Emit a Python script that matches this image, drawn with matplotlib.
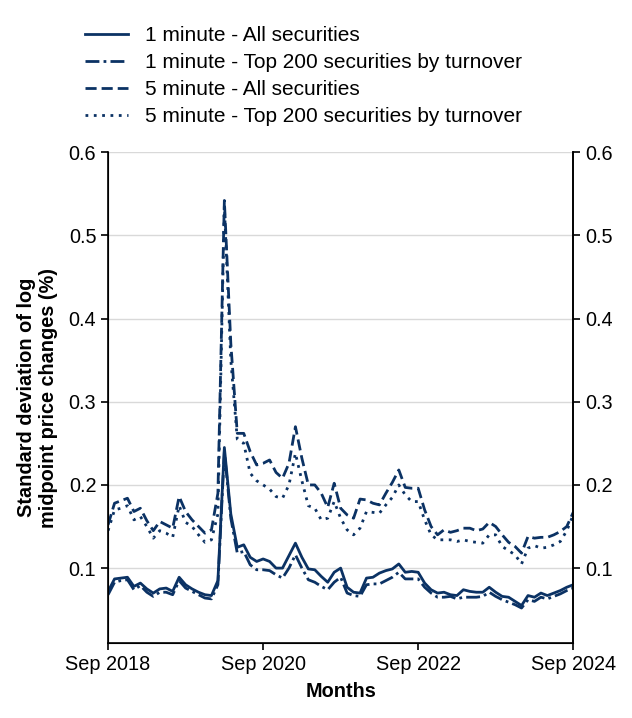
import matplotlib.pyplot as plt
import pandas as pd

plt.rcParams["font.family"] = ["Liberation Sans", "DejaVu Sans"]

# monthly observations, Sep 2018 .. Sep 2024
months = pd.date_range("2018-09-01", "2024-09-01", freq="MS")

one_min_all = [0.072, 0.087, 0.088, 0.089, 0.078, 0.082, 0.075, 0.070, 0.075, 0.076,
               0.072, 0.089, 0.080, 0.075, 0.071, 0.068, 0.067, 0.085, 0.245, 0.165,
               0.125, 0.128, 0.113, 0.108, 0.111, 0.108, 0.100, 0.100, 0.115, 0.130,
               0.113, 0.099, 0.098, 0.090, 0.083, 0.095, 0.100, 0.077, 0.071, 0.070,
               0.088, 0.089, 0.094, 0.097, 0.099, 0.105, 0.095, 0.096, 0.095, 0.082,
               0.074, 0.070, 0.071, 0.068, 0.067, 0.074, 0.072, 0.071, 0.071, 0.077,
               0.071, 0.066, 0.065, 0.060, 0.055, 0.067, 0.065, 0.070, 0.067, 0.070,
               0.073, 0.077, 0.080]
one_min_top200 = [0.068, 0.083, 0.085, 0.086, 0.074, 0.079, 0.071, 0.066, 0.071, 0.071,
                  0.068, 0.085, 0.076, 0.072, 0.068, 0.064, 0.063, 0.080, 0.240, 0.160,
                  0.118, 0.120, 0.104, 0.098, 0.098, 0.097, 0.092, 0.088, 0.100, 0.116,
                  0.100, 0.086, 0.083, 0.078, 0.074, 0.083, 0.089, 0.070, 0.067, 0.066,
                  0.080, 0.081, 0.081, 0.085, 0.089, 0.095, 0.087, 0.087, 0.087, 0.077,
                  0.070, 0.065, 0.065, 0.066, 0.063, 0.065, 0.065, 0.065, 0.066, 0.071,
                  0.066, 0.062, 0.059, 0.056, 0.052, 0.062, 0.060, 0.065, 0.063, 0.066,
                  0.069, 0.073, 0.076]
five_min_all = [0.152, 0.178, 0.181, 0.184, 0.168, 0.172, 0.157, 0.145, 0.156, 0.152,
                0.148, 0.186, 0.168, 0.158, 0.150, 0.142, 0.146, 0.190, 0.542, 0.370,
                0.262, 0.262, 0.240, 0.224, 0.226, 0.230, 0.215, 0.208, 0.226, 0.270,
                0.232, 0.200, 0.200, 0.190, 0.173, 0.202, 0.172, 0.164, 0.160, 0.183,
                0.182, 0.178, 0.176, 0.190, 0.203, 0.218, 0.197, 0.196, 0.196, 0.170,
                0.150, 0.140, 0.146, 0.143, 0.145, 0.148, 0.148, 0.145, 0.147, 0.155,
                0.150, 0.140, 0.131, 0.126, 0.118, 0.138, 0.136, 0.137, 0.137, 0.140,
                0.144, 0.150, 0.167]
five_min_top200 = [0.145, 0.170, 0.172, 0.175, 0.158, 0.162, 0.150, 0.136, 0.145, 0.142,
                   0.137, 0.175, 0.155, 0.150, 0.140, 0.131, 0.134, 0.165, 0.535, 0.350,
                   0.255, 0.250, 0.214, 0.205, 0.200, 0.195, 0.186, 0.184, 0.200, 0.238,
                   0.205, 0.175, 0.172, 0.158, 0.160, 0.180, 0.160, 0.146, 0.140, 0.148,
                   0.168, 0.167, 0.166, 0.176, 0.185, 0.200, 0.188, 0.180, 0.180, 0.158,
                   0.140, 0.134, 0.134, 0.134, 0.132, 0.134, 0.132, 0.131, 0.130, 0.140,
                   0.140, 0.126, 0.121, 0.116, 0.105, 0.124, 0.127, 0.124, 0.125, 0.128,
                   0.132, 0.145, 0.164]

labels = ["1 minute - All securities",
          "1 minute - Top 200 securities by turnover",
          "5 minute - All securities",
          "5 minute - Top 200 securities by turnover"]
xtick_labels = ["Sep 2018", "Sep 2020", "Sep 2022", "Sep 2024"]
yticks = [0.1, 0.2, 0.3, 0.4, 0.5, 0.6]

navy = "#0b3264"
styles = ["-", (0, (5, 1.5, 1, 1.5)), (0, (4, 1.8)), (0, (1, 2))]
fs = 14.3

fig = plt.figure(figsize=(6.32, 7.18), dpi=100)
ax = fig.add_axes([0.171, 0.1045, 0.736, 0.6835])

x = range(len(months))
for series, lab, ls in zip([one_min_all, one_min_top200, five_min_all, five_min_top200], labels, styles):
    ax.plot(x, series, color=navy, lw=2.0, linestyle=ls, label=lab)

ax.set_xlim(0, len(months) - 1)
ax.set_ylim(0.01, 0.6)
ax.set_xticks([0, 24, 48, 72])
ax.set_xticklabels(xtick_labels)
ax.set_yticks(yticks)
ax.set_yticklabels([f"{v:.1f}" for v in yticks])
ax.grid(axis="y", color="#d9d9d9", lw=1)
ax.set_axisbelow(True)
ax.spines["top"].set_visible(False)
ax.tick_params(labelsize=fs, length=5, width=1.2)
for s in ["left", "right", "bottom"]:
    ax.spines[s].set_linewidth(1.2)

ax2 = ax.twinx()
ax2.set_ylim(ax.get_ylim())
ax2.set_yticks(yticks)
ax2.set_yticklabels([f"{v:.1f}" for v in yticks])
ax2.tick_params(labelsize=fs, length=5, width=1.2)
ax2.spines["top"].set_visible(False)
ax2.spines["right"].set_linewidth(1.2)

ax.set_xlabel("Months", fontsize=fs, fontweight="bold", labelpad=6)
ax.set_ylabel("Standard deviation of log\nmidpoint price changes (%)", fontsize=fs,
              fontweight="bold", labelpad=8)

ax.legend(loc="lower left", bbox_to_anchor=(-0.049, 1.053), frameon=False, fontsize=15,
          handlelength=2.07, handletextpad=0.8, labelspacing=0.39,
          borderaxespad=0, borderpad=0)

plt.savefig("out.png", dpi=100)
